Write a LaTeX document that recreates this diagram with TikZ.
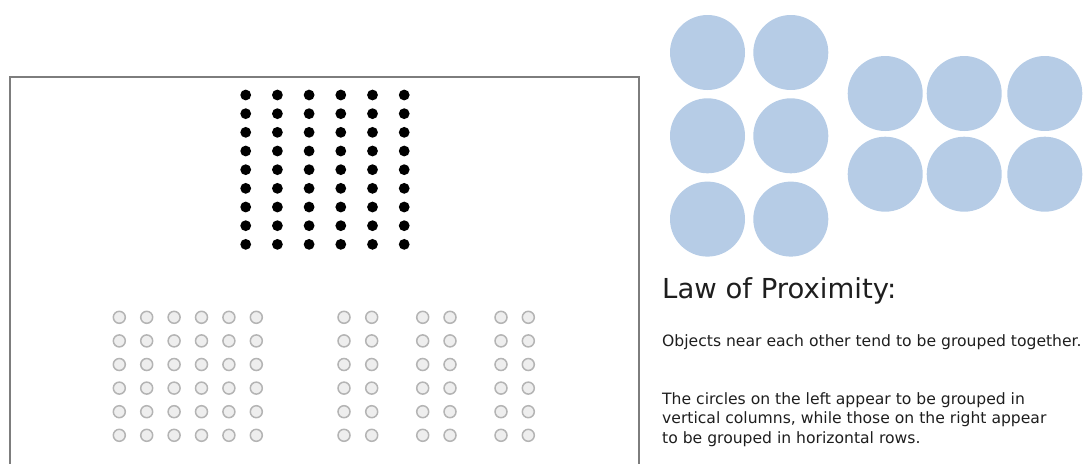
\documentclass[tikz,border=0pt]{standalone}
\usepackage{fontspec}
\setmainfont{DejaVu Sans}
\usetikzlibrary{positioning}

\definecolor{discblue}{RGB}{182,204,230}
\definecolor{ringgrey}{RGB}{180,180,180}
\definecolor{ringfill}{RGB}{238,238,238}
\definecolor{framegrey}{RGB}{125,125,125}
\definecolor{inkgrey}{RGB}{30,30,30}

\begin{document}
\begin{tikzpicture}[x=1pt,y=-1pt,
  dot/.style={fill=black},
  ring/.style={draw=ringgrey,fill=ringfill,line width=1.5pt},
  disc/.style={fill=discblue},
  caption/.style={inner sep=0pt,anchor=base west,text=inkgrey,align=left}]
  \useasboundingbox (0,0) rectangle (1086,463);
  % frame, open at the bottom
  \coordinate (FBL) at (9.5,464);
  \coordinate (FTL) at (9.5,76.5);
  \coordinate (FTR) at (639.3,76.5);
  \coordinate (FBR) at (639.3,464);
  \draw[framegrey,line width=2pt] (FBL) -- (FTL) -- (FTR) -- (FBR);
  % black dots, even grid
  \foreach \i in {0,...,5}
    \foreach \j in {0,...,8}
      \fill[dot] (245.7+31.7*\i,95+18.67*\j) circle (5.4pt);
  % grey rings: one block of columns, then three pairs
  \foreach \j in {0,...,5} {
    \foreach \i in {0,...,5}
      \draw[ring] (119.3+27.4*\i,317.3+23.6*\j) circle (6pt);
    \foreach \x in {344,371.7,422.7,450,501,528.3}
      \draw[ring] (\x,317.3+23.6*\j) circle (6pt);
  }
  % blue discs, columns on the left, rows on the right
  \foreach \x in {707.5,790.8}
    \foreach \y in {52.5,135.8,219.1}
      \fill[disc] (\x,\y) circle (37.5pt);
  \foreach \x in {885.2,964.2,1044.8}
    \foreach \y in {93.5,174.2}
      \fill[disc] (\x,\y) circle (37.5pt);
  % text
  \node[caption,font=\fontsize{27.5}{32}\selectfont] (title) at (662,298) {Law of Proximity:};
  \node[caption,font=\fontsize{15.6}{19}\selectfont] (rule) at (662,346)
    {Objects near each other tend to be grouped together.};
  \node[caption,font=\fontsize{15.6}{19.5}\selectfont] (note) at (662,443)
    {The circles on the left appear to be grouped in\\
     vertical columns, while those on the right appear\\
     to be grouped in horizontal rows.};
\end{tikzpicture}
\end{document}
